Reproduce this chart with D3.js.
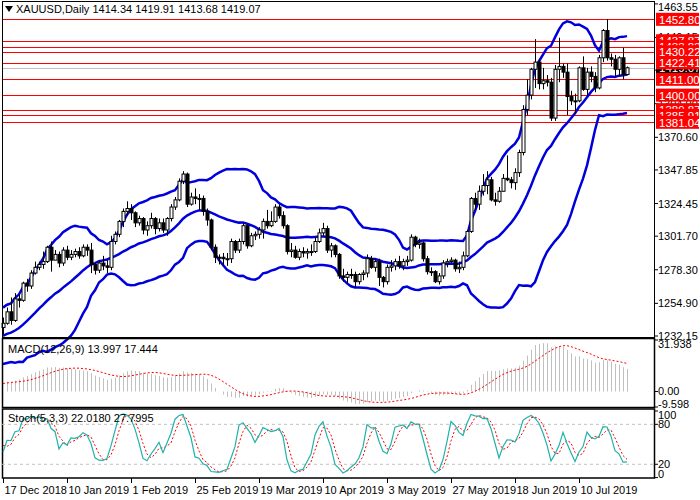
<!DOCTYPE html>
<html><head><meta charset="utf-8">
<script src="https://cdn.jsdelivr.net/npm/d3@7"></script>
<style>body{margin:0;background:#fff}svg{display:block;font-family:"Liberation Sans",Arial,sans-serif}</style>
</head><body><svg id="c" width="700" height="500"></svg>
<script>
// ---- data ----
const priorClose=[1222,1230,1231,1232,1235,1228,1223,1214,1232,1233,1232,1226,1226,1224,1209,1201,1202,1210,1215,1222,1223,1222,1227,1227,1223,1222,1214,1221,1224,1222,1231,1238,1237,1238,1248,1243,1244,1245,1241,1238];
const priorHigh=[1228,1227,1234,1241,1240,1243,1250,1250,1248,1249,1246,1242];
const priorLow=[1219,1218,1221,1229,1235,1232,1236,1241,1240,1242,1239,1233];
const closes=[1241,1249,1243,1258,1257,1269,1267,1276,1280,1282,1284,1294,1285,1289,1283,1292,1287,1289,1291,1288,1294,1292,1282,1278,1283,1281,1280,1298,1303,1312,1319,1321,1318,1311,1314,1306,1309,1314,1307,1311,1306,1314,1322,1327,1340,1345,1324,1329,1328,1328,1319,1313,1294,1287,1287,1286,1286,1298,1292,1298,1309,1295,1302,1303,1306,1312,1309,1312,1322,1316,1309,1291,1292,1287,1291,1290,1291,1291,1298,1304,1307,1292,1295,1289,1274,1273,1275,1275,1270,1275,1276,1286,1280,1284,1273,1270,1280,1281,1284,1281,1284,1285,1301,1296,1297,1286,1277,1277,1270,1274,1283,1284,1285,1279,1280,1288,1305,1328,1324,1333,1337,1341,1327,1326,1333,1342,1341,1339,1346,1360,1390,1400,1418,1423,1408,1410,1409,1384,1418,1420,1416,1399,1396,1396,1419,1404,1416,1413,1405,1426,1445,1426,1425,1418,1426,1414.34,1419.07];
const highs=[1245,1252,1259,1262,1261,1270,1272,1278,1284,1284,1291,1295,1298,1292,1291,1294,1295,1292,1293,1294,1296,1296,1297,1283,1285,1288,1285,1302,1305,1313,1321,1326,1324,1319,1316,1315,1312,1318,1315,1314,1314,1315,1324,1329,1342,1347,1346,1332,1335,1331,1330,1321,1314,1296,1289,1290,1290,1300,1299,1300,1311,1310,1304,1305,1308,1314,1320,1319,1324,1324,1319,1310,1297,1295,1293,1294,1293,1296,1301,1307,1311,1309,1297,1296,1290,1279,1277,1279,1277,1276,1278,1289,1288,1286,1286,1274,1282,1285,1286,1288,1286,1288,1303,1302,1300,1298,1288,1280,1278,1276,1285,1286,1287,1286,1284,1291,1306,1329,1332,1337,1345,1347,1343,1332,1336,1345,1358,1343,1349,1362,1393,1411,1419,1439,1425,1419,1414,1412,1421,1440,1422,1422,1403,1401,1420,1427,1419,1420,1416,1428,1446,1453,1429,1428,1427,1433,1419.91];
const lows=[1233,1240,1240,1242,1252,1256,1263,1265,1275,1278,1279,1283,1277,1285,1280,1281,1285,1285,1287,1286,1287,1288,1276,1275,1276,1278,1276,1278,1296,1301,1308,1316,1313,1308,1309,1303,1302,1307,1303,1305,1304,1302,1312,1320,1326,1338,1322,1323,1324,1320,1316,1309,1292,1283,1282,1281,1281,1283,1290,1290,1296,1293,1294,1299,1300,1300,1307,1308,1311,1314,1307,1289,1287,1286,1285,1287,1286,1288,1290,1297,1302,1290,1287,1287,1272,1270,1269,1272,1266,1268,1271,1273,1279,1277,1267,1266,1268,1277,1278,1279,1278,1281,1284,1294,1293,1284,1275,1274,1269,1268,1272,1280,1283,1277,1276,1278,1287,1304,1320,1320,1330,1331,1326,1323,1325,1333,1340,1335,1334,1343,1358,1386,1397,1405,1404,1404,1406,1382,1382,1409,1412,1386,1393,1387,1395,1403,1400,1409,1402,1404,1423,1424,1420,1413,1413,1411,1413.68];
const levels=[1452.80,1437.87,1433.83,1430.22,1422.41,1411.00,1400.00,1389.87,1385.91,1381.04];
const priceTicks=[1463.55,1440.15,1417.40,1394.00,1370.60,1347.85,1324.45,1301.70,1278.30,1254.90,1232.15];
const dateLabels=["17 Dec 2018","10 Jan 2019","1 Feb 2019","25 Feb 2019","19 Mar 2019","10 Apr 2019","3 May 2019","27 May 2019","18 Jun 2019","10 Jul 2019"];
const dateIdx=[0,16,32,48,64,80,96,112,128,144];
const lastPrice=1419.07;

// ---- indicators ----
const allC=priorClose.concat(closes), P=priorClose.length, N=closes.length;
const opens=closes.map((c,i)=>i===0?priorClose[P-1]:closes[i-1]);
opens[N-1]=1414.34;
function ema(a,n){const k=2/(n+1);let out=[],e=a[0];a.forEach((v,i)=>{e=i?v*k+e*(1-k):v;out.push(e)});return out;}
const e12=ema(allC,12),e26=ema(allC,26),macd=allC.map((v,i)=>e12[i]-e26[i]);
const sig=macd.map((v,i)=>i<8?null:d3.mean(macd.slice(i-8,i+1)));
const bb=closes.map((c,j)=>{const i=j+P,w=allC.slice(i-19,i+1),m=d3.mean(w),s=Math.sqrt(d3.mean(w,x=>(x-m)*(x-m)));return {m,u:m+2*s,l:m-2*s};});
const HH=priorHigh.concat(highs),LL=priorLow.concat(lows),Q=priorHigh.length,CC=priorClose.slice(P-Q).concat(closes);
const num=[],den=[];
CC.forEach((c,i)=>{if(i<4){num.push(null);den.push(null);return;}const hh=d3.max(HH.slice(i-4,i+1)),ll=d3.min(LL.slice(i-4,i+1));num.push(c-ll);den.push(hh-ll);});
const K=CC.map((c,i)=>i<6?null:100*d3.sum(num.slice(i-2,i+1))/d3.sum(den.slice(i-2,i+1)));
const D=K.map((k,i)=>i<8?null:d3.mean(K.slice(i-2,i+1)));

// ---- drawing ----
const svg=d3.select("#c");
const L=2,R=654;
const x=d3.scaleLinear().domain([0,N-1]).range([3,627]);
const y=d3.scaleLinear().domain([1232.15,1463.55]).range([336,3.9]);
const ym=d3.scaleLinear().domain([-9.598,31.938]).range([407,340]);
const ys=d3.scaleLinear().domain([0,100]).range([477.6,411]);
const idx=d3.range(N);

svg.append("g").selectAll("line").data(levels).join("line").attr("x1",L).attr("x2",R).attr("y1",d=>Math.round(y(d))+.5).attr("y2",d=>Math.round(y(d))+.5).attr("stroke","#ff0000").attr("stroke-width",1);
svg.append("line").attr("x1",L).attr("x2",R).attr("y1",Math.round(y(lastPrice))+.5).attr("y2",Math.round(y(lastPrice))+.5).attr("stroke","#c0c0c0");

const blue="#0000dd";
["u","m","l"].forEach(k=>{
  svg.append("path").datum(idx).attr("fill","none").attr("stroke",blue).attr("stroke-width",2.5)
   .attr("d",d3.line().x(i=>x(i)).y(i=>y(bb[i][k])));
});
const cg=svg.append("g");
idx.forEach(i=>{
  const xi=Math.round(x(i))+.5,o=opens[i],c=closes[i],up=c>=o;
  cg.append("line").attr("x1",xi).attr("x2",xi).attr("y1",y(highs[i])).attr("y2",y(lows[i])).attr("stroke","#000");
  const top=y(Math.max(o,c)),bot=y(Math.min(o,c));
  cg.append("rect").attr("x",xi-1.5).attr("width",3).attr("y",top).attr("height",Math.max(1,bot-top)).attr("fill",up?"#fff":"#000").attr("stroke","#000").attr("stroke-width",1);
});

svg.append("rect").attr("x",L+.5).attr("y",1.5).attr("width",R-L).attr("height",336).attr("fill","none").attr("stroke","#000");
svg.append("rect").attr("x",L+.5).attr("y",338.5).attr("width",R-L).attr("height",69).attr("fill","none").attr("stroke","#000").attr("stroke-width",1.5);
svg.append("rect").attr("x",L+.5).attr("y",409).attr("width",R-L).attr("height",69).attr("fill","none").attr("stroke","#000").attr("stroke-width",1.5);

svg.append("g").selectAll("line").data(idx).join("line").attr("x1",i=>Math.round(x(i))+.5).attr("x2",i=>Math.round(x(i))+.5)
 .attr("y1",ym(0)).attr("y2",i=>ym(macd[i+P])).attr("stroke","#c0c0c0");
svg.append("path").datum(idx).attr("fill","none").attr("stroke","#ff0000").attr("stroke-dasharray","2,2").attr("d",d3.line().x(i=>x(i)).y(i=>ym(sig[i+P])));
svg.append("text").attr("x",8).attr("y",353).attr("font-size",11).attr("fill","#000").text("MACD(12,26,9) 13.997 17.444");

[80,20].forEach(v=>svg.append("line").attr("x1",L).attr("x2",R).attr("y1",ys(v)).attr("y2",ys(v)).attr("stroke","#c0c0c0").attr("stroke-dasharray","3,3"));
svg.append("path").datum(idx).attr("fill","none").attr("stroke","#ff0000").attr("stroke-dasharray","2,2").attr("d",d3.line().x(i=>x(i)).y(i=>ys(D[i+Q])));
svg.append("path").datum(idx).attr("fill","none").attr("stroke","#20b2aa").attr("stroke-width",1.2).attr("d",d3.line().x(i=>x(i)).y(i=>ys(K[i+Q])));
svg.append("text").attr("x",8).attr("y",422).attr("font-size",11).attr("fill","#000").text("Stoch(5,3,3) 22.0180 27.7995");

svg.append("path").attr("d","M5,6 L13,6 L9,12 Z").attr("fill","#000");
svg.append("text").attr("x",16).attr("y",13).attr("font-size",11).attr("fill","#000").text("XAUUSD,Daily  1414.34 1419.91 1413.68 1419.07");

const ra=svg.append("g").attr("font-size",11).attr("fill","#000");
priceTicks.forEach(p=>{ra.append("line").attr("x1",R).attr("x2",R+4).attr("y1",y(p)).attr("y2",y(p)).attr("stroke","#000");
 ra.append("text").attr("x",R+4).attr("y",Math.max(11,y(p)+4)).text(p.toFixed(2));});
[[31.938,"31.938"],[0,"0.00"],[-9.598,"-9.598"]].forEach(([v,t])=>{ra.append("line").attr("x1",R).attr("x2",R+4).attr("y1",ym(v)).attr("y2",ym(v)).attr("stroke","#000");ra.append("text").attr("x",R+4).attr("y",ym(v)+(v>30?8:v<0?1:3)).text(t);});
[100,80,20,0].forEach(v=>{ra.append("line").attr("x1",R).attr("x2",R+4).attr("y1",ys(v)).attr("y2",ys(v)).attr("stroke","#000");ra.append("text").attr("x",R+4).attr("y",ys(v)+(v===100?8:v===0?0:4)).text(v);});
function box(p,fill,txt){const yy=y(p);ra.append("rect").attr("x",R+2).attr("y",yy-6.5).attr("width",43).attr("height",13).attr("fill",fill);
 ra.append("text").attr("x",R+5).attr("y",yy+4.5).attr("fill","#fff").attr("font-size",11.5).text(txt);}
box(lastPrice,"#000",lastPrice.toFixed(2));
levels.forEach(p=>box(p,"#ff0000",p.toFixed(2)));

const xa=svg.append("g").attr("font-size",11).attr("fill","#000");
dateIdx.forEach((di,k)=>{const xx=Math.round(x(di))+.5;xa.append("line").attr("x1",xx).attr("x2",xx).attr("y1",478).attr("y2",483).attr("stroke","#000");
 xa.append("text").attr("x",xx+1).attr("y",494).text(dateLabels[k]);});
</script></body></html>
